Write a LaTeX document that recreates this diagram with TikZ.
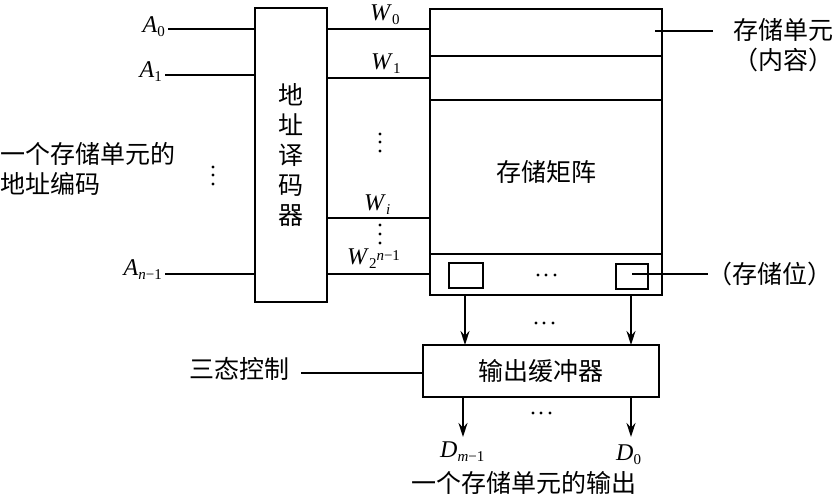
\documentclass[tikz,border=0pt]{standalone}
\usepackage{fontspec}
\setmainfont{Liberation Serif}
\newfontfamily\cjk{Noto Sans CJK SC}
\newcommand{\subtxt}[1]{\raisebox{-4pt}{\fontsize{15}{15}\selectfont #1}}
\newcommand{\ltr}[1]{\textit{#1}}
\usetikzlibrary{arrows.meta}
\tikzset{
  box/.style={draw,line width=1.4pt,inner sep=0pt,outer sep=0pt},
  wire/.style={line width=1.4pt},
  arrow/.style={line width=1.4pt,-{Stealth[length=14pt,width=9pt]}},
  cn/.style={inner sep=0pt,font=\cjk\fontsize{25}{30}\selectfont},
  lab/.style={inner sep=0pt,font=\fontsize{24}{26}\selectfont}
}
\begin{document}
\begin{tikzpicture}[x=1pt,y=-1pt]
\useasboundingbox (0,0) rectangle (839,500);
\node [box,minimum width=72pt,minimum height=294pt,align=center,cn] (decoder) at (291,155) {地\\址\\译\\码\\器};
\node [box,minimum width=232pt,minimum height=286pt] (array) at (546,152) {};
\node [box,minimum width=236pt,minimum height=52pt,cn] (buffer) at (541,371) {输出缓冲器};
\node [box,minimum width=34pt,minimum height=25pt] (bitL) at (466,275.5) {};
\node [box,minimum width=32pt,minimum height=25pt] (bitR) at (632,276.5) {};
\node [cn] (arraytxt) at (546,172) {存储矩阵};
% array rows
\foreach \y in {56,100,254}
  \draw [wire] (array.west |- 0,\y) -- (array.east |- 0,\y);
% address inputs
\coordinate (a0) at (168,29);
\coordinate (a1) at (165,75);
\coordinate (an) at (165,274);
\node [lab,anchor=base east] (A0) at (165,33) {\ltr{A}\subtxt{0}};
\node [lab,anchor=base east] (A1) at (162,78) {\ltr{A}\subtxt{1}};
\node [lab,anchor=base east] (An) at (162,276) {\ltr{A}\subtxt{\ltr{n}−1}};
\draw [wire] (a0) -- (a0 -| decoder.west);
\draw [wire] (a1) -- (a1 -| decoder.west);
\draw [wire] (an) -- (an -| decoder.west);
% word lines
\coordinate (w0) at (378,29);
\coordinate (w1) at (378,78);
\coordinate (wi) at (378,218);
\coordinate (wn) at (378,274);
\node [lab,anchor=base west] (W0) at (370,21) {\ltr{W}\subtxt{0}};
\node [lab,anchor=base west] (W1) at (371,70) {\ltr{W}\subtxt{1}};
\node [lab,anchor=base west] (Wi) at (364,211) {\ltr{W}\subtxt{\ltr{i}}};
\node [lab,anchor=base west] (Wn) at (347,265) {\ltr{W}\subtxt{2\raisebox{8pt}{\ltr{n}−1}}};
\draw [wire] (decoder.east |- w0) -- (array.west |- w0);
\draw [wire] (decoder.east |- w1) -- (array.west |- w1);
\draw [wire] (decoder.east |- wi) -- (array.west |- wi);
\draw [wire] (decoder.east |- wn) -- (array.west |- wn);
% dots
\foreach \x/\y in {380/134,380/142,380/151,380/225,380/234,380/243,213/167,213/175,213/184}
  \fill (\x,\y) circle (1.6pt);
\foreach \x/\y in {538/275,546/275,555/275,536/323,544/323,553/323,533/413,541/413,550/413}
  \fill (\x,\y) circle (1.6pt);
% outer labels
\node [cn,anchor=west,align=left] (addrtxt) at (0,169) {一个存储单元的\\地址编码};
\node [cn,anchor=east] (tritxt) at (290,369) {三态控制};
\node [cn] (celltxt) at (783,30) {存储单元};
\node [cn] (conttxt) at (783,60) {（内容）};
\node [cn] (bittxt) at (770,274) {（存储位）};
\node [cn] (outtxt) at (524,483) {一个存储单元的输出};
\coordinate (cellpt) at (655,31);
\coordinate (cellend) at (713,31);
\coordinate (bitend) at (708,274);
\coordinate (tri) at (301,373);
\draw [wire] (cellpt) -- (cellend);
\draw [wire] (bitR.center |- bitend) -- (bitend);
\draw [wire] (tri) -- (tri -| buffer.west);
% data paths
\coordinate (dl) at (463,437);
\coordinate (dr) at (631,437);
\draw [arrow] (array.south -| 465,0) -- (buffer.north -| 465,0);
\draw [arrow] (array.south -| 631,0) -- (buffer.north -| 631,0);
\draw [arrow] (buffer.south -| dl) -- (dl);
\draw [arrow] (buffer.south -| dr) -- (dr);
\node [lab,anchor=base west] (Dm) at (440,457) {\ltr{D}\subtxt{\ltr{m}−1}};
\node [lab,anchor=base west] (D0) at (616,460) {\ltr{D}\subtxt{0}};
\end{tikzpicture}
\end{document}
